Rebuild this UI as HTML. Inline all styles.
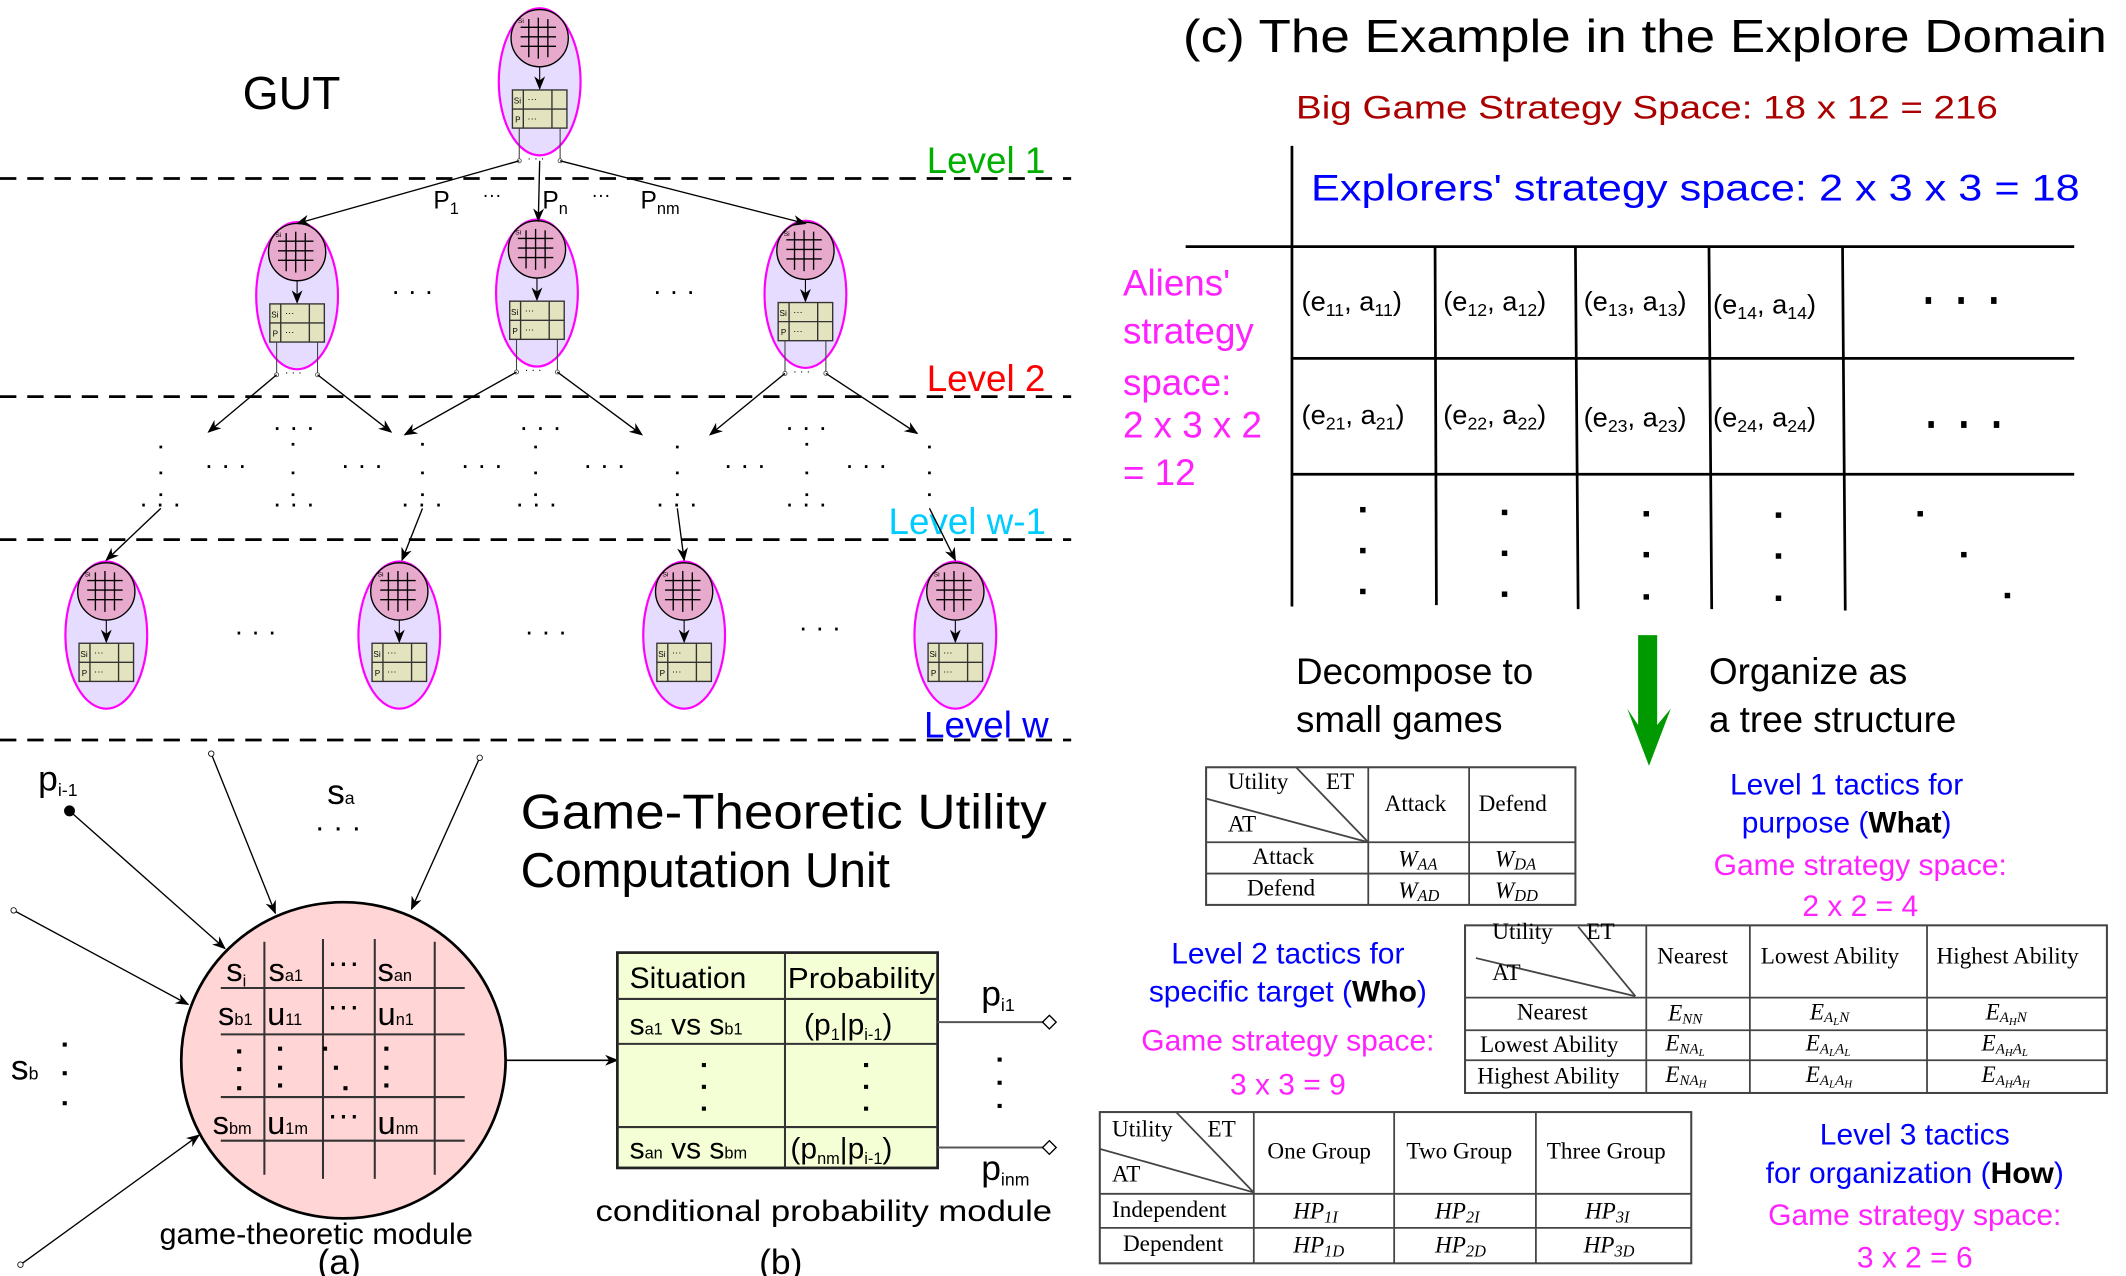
<!DOCTYPE html>
<html><head><meta charset="utf-8"><style>
html,body{margin:0;padding:0;background:#fff;}
svg{display:block;}
text{font-family:"Liberation Sans","DejaVu Sans",sans-serif;}
.s text{font-family:"Liberation Serif",serif;}
</style></head><body>
<svg width="2126" height="1276" viewBox="0 0 1560 936.3" preserveAspectRatio="none" xmlns="http://www.w3.org/2000/svg">
<defs>
<marker id="ar" markerWidth="10" markerHeight="8" refX="9" refY="4" orient="auto" markerUnits="userSpaceOnUse"><path d="M0,0 L10,4 L0,8 L3,4 z" fill="#000"/></marker>
<g id="nodew">
<ellipse cx="0" cy="0" rx="30" ry="54" fill="#e6dcff" stroke="#ff00ff" stroke-width="1.6"/>
<circle cx="0" cy="-32" r="21" fill="#e8aacc" stroke="#000" stroke-width="1"/>
<g stroke="#000" stroke-width="1"><line x1="-8" y1="-46" x2="-8" y2="-18"/><line x1="-1" y1="-47" x2="-1" y2="-17"/><line x1="6" y1="-46" x2="6" y2="-18"/>
<line x1="-14" y1="-40" x2="12" y2="-40"/><line x1="-14" y1="-33" x2="12" y2="-33"/><line x1="-14" y1="-26" x2="12" y2="-26"/></g>
<text x="-16" y="-43" font-size="5">Si</text>
<line x1="0" y1="-11" x2="0" y2="5" stroke="#000" stroke-width="0.8" marker-end="url(#ar)"/>
<rect x="-20" y="6" width="40" height="28" fill="#e3e3bf" stroke="#333" stroke-width="1"/>
<line x1="-20" y1="20" x2="20" y2="20" stroke="#333"/><line x1="-12" y1="6" x2="-12" y2="34" stroke="#333"/><line x1="9" y1="6" x2="9" y2="34" stroke="#333"/>
<text x="-19" y="16" font-size="6">Si</text><text x="-9" y="15" font-size="7">···</text>
<text x="-18" y="30" font-size="6">P</text><text x="-9" y="29" font-size="7">···</text>
</g>
<g id="node">
<use href="#nodew"/>
<g stroke="#444" stroke-width="0.8"><line x1="-15" y1="34" x2="-15" y2="58"/><line x1="15" y1="34" x2="15" y2="58"/></g>
<circle cx="-15" cy="58" r="1.5" fill="#fff" stroke="#444" stroke-width="0.6"/><circle cx="15" cy="58" r="1.5" fill="#fff" stroke="#444" stroke-width="0.6"/>
<text x="-9" y="59" font-size="8">· · ·</text>
</g>
</defs>

<g stroke="#000" stroke-width="2" stroke-dasharray="12 8">
<line x1="0" y1="131" x2="786" y2="131"/><line x1="0" y1="291" x2="786" y2="291"/>
<line x1="0" y1="396" x2="786" y2="396"/><line x1="0" y1="543" x2="786" y2="543"/>
</g>
<text x="178" y="80" font-size="34">GUT</text>
<text x="680" y="127" font-size="27" fill="#00b000">Level 1</text>
<text x="680" y="287" font-size="27" fill="#ff0000">Level 2</text>
<text x="652" y="392" font-size="27" fill="#00ccff">Level w-1</text>
<text x="678" y="541" font-size="27" fill="#0000ff">Level w</text>

<use href="#node" x="396" y="60"/>
<use href="#node" x="218" y="217"/>
<use href="#node" x="394" y="215"/>
<use href="#node" x="591" y="216"/>
<use href="#nodew" x="78" y="466"/>
<use href="#nodew" x="293" y="466"/>
<use href="#nodew" x="502" y="466"/>
<use href="#nodew" x="701" y="466"/>

<g stroke="#000" stroke-width="1" marker-end="url(#ar)">
<line x1="381" y1="118" x2="218" y2="164"/><line x1="396" y1="118" x2="395" y2="162"/><line x1="411" y1="118" x2="591" y2="164"/>
<line x1="203" y1="275" x2="153" y2="317"/><line x1="233" y1="275" x2="287" y2="317"/>
<line x1="379" y1="273" x2="297" y2="319"/><line x1="409" y1="273" x2="471" y2="319"/>
<line x1="576" y1="274" x2="521" y2="319"/><line x1="606" y1="274" x2="673" y2="318"/>
<line x1="118" y1="373" x2="78" y2="411"/><line x1="310" y1="373" x2="295" y2="411"/><line x1="497" y1="373" x2="502" y2="411"/><line x1="682" y1="373" x2="701" y2="411"/>
</g>
<text x="318" y="153" font-size="18">P<tspan font-size="12" dy="4">1</tspan></text>
<text x="354" y="148" font-size="14">···</text>
<text x="398" y="153" font-size="18">P<tspan font-size="12" dy="4">n</tspan></text>
<text x="434" y="148" font-size="14">···</text>
<text x="470" y="153" font-size="18">P<tspan font-size="12" dy="4">nm</tspan></text>
<g font-size="20">
<text x="287" y="220">· · ·</text><text x="479" y="220">· · ·</text>
<text x="200" y="320">· · ·</text><text x="381" y="320">· · ·</text><text x="576" y="320">· · ·</text>
<text x="150" y="348">· · ·</text><text x="250" y="348">· · ·</text><text x="338" y="348">· · ·</text><text x="428" y="348">· · ·</text><text x="531" y="348">· · ·</text><text x="620" y="348">· · ·</text>
<text x="102" y="376">· · ·</text><text x="200" y="376">· · ·</text><text x="294" y="376">· · ·</text><text x="378" y="376">· · ·</text><text x="481" y="376">· · ·</text><text x="576" y="376">· · ·</text>
<text x="172" y="470">· · ·</text><text x="385" y="470">· · ·</text><text x="586" y="467">· · ·</text>
</g>
<g fill="#000">
<rect x="117" y="327" width="2" height="2"/><rect x="117" y="346" width="2" height="2"/><rect x="117" y="362" width="2" height="2"/>
<rect x="214" y="325" width="2" height="2"/><rect x="214" y="346" width="2" height="2"/><rect x="214" y="362" width="2" height="2"/>
<rect x="309" y="325" width="2" height="2"/><rect x="309" y="346" width="2" height="2"/><rect x="309" y="362" width="2" height="2"/>
<rect x="392" y="327" width="2" height="2"/><rect x="392" y="346" width="2" height="2"/><rect x="392" y="362" width="2" height="2"/>
<rect x="496" y="327" width="2" height="2"/><rect x="496" y="346" width="2" height="2"/><rect x="496" y="362" width="2" height="2"/>
<rect x="591" y="325" width="2" height="2"/><rect x="591" y="346" width="2" height="2"/><rect x="591" y="362" width="2" height="2"/>
<rect x="681" y="327" width="2" height="2"/><rect x="681" y="346" width="2" height="2"/><rect x="681" y="362" width="2" height="2"/>
</g>

<!-- (a) -->
<ellipse cx="252" cy="778" rx="119" ry="116" fill="#ffd5d5" stroke="#000" stroke-width="2"/>
<g stroke="#333" stroke-width="1.5">
<line x1="162" y1="725" x2="341" y2="725"/><line x1="162" y1="759" x2="341" y2="759"/><line x1="162" y1="805" x2="341" y2="805"/><line x1="162" y1="837" x2="341" y2="837"/>
<line x1="194" y1="691" x2="194" y2="862"/><line x1="237" y1="689" x2="237" y2="865"/><line x1="275" y1="689" x2="275" y2="865"/><line x1="319" y1="691" x2="319" y2="862"/>
</g>
<g font-size="24">
<text x="166" y="720">s<tspan font-size="12" dy="4">i</tspan></text>
<text x="197" y="720">s<tspan font-size="12">a1</tspan></text>
<text x="240" y="714">···</text>
<text x="277" y="720">s<tspan font-size="12">an</tspan></text>
<text x="160" y="752">s<tspan font-size="12">b1</tspan></text>
<text x="196" y="752">u<tspan font-size="12">11</tspan></text>
<text x="240" y="746">···</text>
<text x="277" y="752">u<tspan font-size="12">n1</tspan></text>
<text x="156" y="832">s<tspan font-size="12">bm</tspan></text>
<text x="196" y="832">u<tspan font-size="12">1m</tspan></text>
<text x="240" y="826">···</text>
<text x="277" y="832">u<tspan font-size="12">nm</tspan></text>
</g>
<g fill="#000">
<rect x="174" y="770" width="3" height="3"/><rect x="174" y="783" width="3" height="3"/><rect x="174" y="797" width="3" height="3"/>
<rect x="204" y="768" width="3" height="3"/><rect x="204" y="782" width="3" height="3"/><rect x="204" y="795" width="3" height="3"/>
<rect x="237" y="768" width="3" height="3"/><rect x="245" y="782" width="3" height="3"/><rect x="252" y="797" width="3" height="3"/>
<rect x="282" y="768" width="3" height="3"/><rect x="282" y="782" width="3" height="3"/><rect x="282" y="795" width="3" height="3"/>
</g>
<circle cx="51" cy="595" r="4" fill="#000"/>
<g stroke="#000" stroke-width="1" marker-end="url(#ar)">
<line x1="51" y1="595" x2="165" y2="696"/>
<line x1="155" y1="553" x2="202" y2="670"/>
<line x1="352" y1="556" x2="302" y2="667"/>
<line x1="10" y1="668" x2="138" y2="737"/>
<line x1="15" y1="928" x2="146" y2="833"/>
</g>
<g fill="#fff" stroke="#000" stroke-width="0.6"><circle cx="155" cy="553" r="2"/><circle cx="352" cy="556" r="2"/><circle cx="10" cy="668" r="2"/><circle cx="15" cy="928" r="2"/></g>
<text x="28" y="580" font-size="26">p<tspan font-size="13" dy="4">i-1</tspan></text>
<text x="240" y="590" font-size="26">s<tspan font-size="13">a</tspan></text>
<text x="231" y="614" font-size="22">· · ·</text>
<text x="8" y="792" font-size="26">s<tspan font-size="13">b</tspan></text>
<g fill="#000"><rect x="46" y="765" width="3" height="3"/><rect x="46" y="786" width="3" height="3"/><rect x="46" y="808" width="3" height="3"/></g>
<text x="117" y="913" font-size="22" textLength="230" lengthAdjust="spacingAndGlyphs">game-theoretic module</text>
<text x="233" y="935" font-size="26">(a)</text>
<text x="382" y="608" font-size="36" textLength="386" lengthAdjust="spacingAndGlyphs">Game-Theoretic Utility</text>
<text x="382" y="651" font-size="36" textLength="271" lengthAdjust="spacingAndGlyphs">Computation Unit</text>
<line x1="371" y1="778" x2="453" y2="778" stroke="#000" stroke-width="1.2" marker-end="url(#ar)"/>

<!-- (b) -->
<rect x="453" y="699" width="235" height="158" fill="#f5ffd5" stroke="#222" stroke-width="2"/>
<g stroke="#333" stroke-width="1.5"><line x1="576" y1="699" x2="576" y2="857"/><line x1="453" y1="733" x2="688" y2="733"/><line x1="453" y1="766" x2="688" y2="766"/><line x1="453" y1="827" x2="688" y2="827"/></g>
<text x="462" y="725" font-size="22">Situation</text>
<text x="578" y="725" font-size="21" textLength="108" lengthAdjust="spacingAndGlyphs">Probability</text>
<text x="462" y="759" font-size="22">s<tspan font-size="12">a1</tspan> vs s<tspan font-size="12">b1</tspan></text>
<text x="590" y="759" font-size="22">(p<tspan font-size="12" dy="4">1</tspan><tspan dy="-4">|p</tspan><tspan font-size="12" dy="4">i-1</tspan><tspan dy="-4">)</tspan></text>
<text x="462" y="850" font-size="22">s<tspan font-size="12">an</tspan> vs s<tspan font-size="12">bm</tspan></text>
<text x="580" y="850" font-size="22">(p<tspan font-size="12" dy="4">nm</tspan><tspan dy="-4">|p</tspan><tspan font-size="12" dy="4">i-1</tspan><tspan dy="-4">)</tspan></text>
<g fill="#000"><rect x="515" y="780" width="3" height="3"/><rect x="515" y="796" width="3" height="3"/><rect x="515" y="812" width="3" height="3"/>
<rect x="634" y="780" width="3" height="3"/><rect x="634" y="796" width="3" height="3"/><rect x="634" y="812" width="3" height="3"/>
<rect x="732" y="776" width="3" height="3"/><rect x="732" y="793" width="3" height="3"/><rect x="732" y="810" width="3" height="3"/></g>
<g stroke="#555" stroke-width="1.5"><line x1="688" y1="750" x2="765" y2="750"/><line x1="688" y1="842" x2="765" y2="842"/></g>
<g fill="#fff" stroke="#000" stroke-width="1"><path d="M765,750 l5,-5 l5,5 l-5,5z"/><path d="M765,842 l5,-5 l5,5 l-5,5z"/></g>
<text x="720" y="738" font-size="26">p<tspan font-size="13" dy="4">i1</tspan></text>
<text x="720" y="866" font-size="26">p<tspan font-size="13" dy="4">inm</tspan></text>
<text x="437" y="896" font-size="22" textLength="335" lengthAdjust="spacingAndGlyphs">conditional probability module</text>
<text x="557" y="935" font-size="26">(b)</text>

<!-- (c) -->
<text x="868" y="38" font-size="34" textLength="678" lengthAdjust="spacingAndGlyphs">(c) The Example in the Explore Domain</text>
<text x="951" y="87" font-size="24" fill="#aa0000" textLength="515" lengthAdjust="spacingAndGlyphs">Big Game Strategy Space: 18 x 12 = 216</text>
<text x="962" y="147" font-size="27" fill="#0000ff" textLength="564" lengthAdjust="spacingAndGlyphs">Explorers' strategy space: 2 x 3 x 3 = 18</text>
<g fill="#ff22ff" font-size="27">
<text x="824" y="217">Aliens'</text><text x="824" y="252">strategy</text><text x="824" y="290">space:</text><text x="824" y="321">2 x 3 x 2</text><text x="824" y="356">= 12</text>
</g>
<g stroke="#000" stroke-width="2">
<line x1="948" y1="107" x2="948" y2="445"/>
<line x1="870" y1="181" x2="1522" y2="181"/><line x1="948" y1="263" x2="1522" y2="263"/><line x1="948" y1="348" x2="1522" y2="348"/>
<line x1="1053" y1="181" x2="1054" y2="444"/><line x1="1156" y1="181" x2="1158" y2="447"/><line x1="1254" y1="181" x2="1256" y2="447"/><line x1="1352" y1="181" x2="1354" y2="448"/>
</g>
<g font-size="20">
<text x="955" y="228">(e<tspan font-size="13" dy="4">11</tspan><tspan dy="-4">, a</tspan><tspan font-size="13" dy="4">11</tspan><tspan dy="-4">)</tspan></text>
<text x="1059" y="228">(e<tspan font-size="13" dy="4">12</tspan><tspan dy="-4">, a</tspan><tspan font-size="13" dy="4">12</tspan><tspan dy="-4">)</tspan></text>
<text x="1162" y="228">(e<tspan font-size="13" dy="4">13</tspan><tspan dy="-4">, a</tspan><tspan font-size="13" dy="4">13</tspan><tspan dy="-4">)</tspan></text>
<text x="1257" y="230">(e<tspan font-size="13" dy="4">14</tspan><tspan dy="-4">, a</tspan><tspan font-size="13" dy="4">14</tspan><tspan dy="-4">)</tspan></text>
<text x="955" y="311">(e<tspan font-size="13" dy="4">21</tspan><tspan dy="-4">, a</tspan><tspan font-size="13" dy="4">21</tspan><tspan dy="-4">)</tspan></text>
<text x="1059" y="311">(e<tspan font-size="13" dy="4">22</tspan><tspan dy="-4">, a</tspan><tspan font-size="13" dy="4">22</tspan><tspan dy="-4">)</tspan></text>
<text x="1162" y="313">(e<tspan font-size="13" dy="4">23</tspan><tspan dy="-4">, a</tspan><tspan font-size="13" dy="4">23</tspan><tspan dy="-4">)</tspan></text>
<text x="1257" y="313">(e<tspan font-size="13" dy="4">24</tspan><tspan dy="-4">, a</tspan><tspan font-size="13" dy="4">24</tspan><tspan dy="-4">)</tspan></text>
</g>
<g fill="#000">
<rect x="1413" y="218" width="4" height="5"/><rect x="1437" y="218" width="4" height="5"/><rect x="1461" y="218" width="4" height="5"/>
<rect x="1415" y="309" width="4" height="5"/><rect x="1439" y="309" width="4" height="5"/><rect x="1463" y="309" width="4" height="5"/>
<rect x="998" y="372" width="4" height="4"/><rect x="998" y="402" width="4" height="4"/><rect x="998" y="432" width="4" height="4"/>
<rect x="1102" y="374" width="4" height="4"/><rect x="1102" y="404" width="4" height="4"/><rect x="1102" y="434" width="4" height="4"/>
<rect x="1206" y="375" width="4" height="4"/><rect x="1206" y="405" width="4" height="4"/><rect x="1206" y="436" width="4" height="4"/>
<rect x="1303" y="376" width="4" height="4"/><rect x="1303" y="406" width="4" height="4"/><rect x="1303" y="437" width="4" height="4"/>
<rect x="1407" y="375" width="4" height="4"/><rect x="1439" y="405" width="4" height="4"/><rect x="1471" y="435" width="4" height="4"/>
</g>
<path d="M1202,466 L1216,466 L1216,532 L1226,520 L1210,562 L1194,520 L1202,532 z" fill="#009900"/>
<g font-size="27">
<text x="951" y="502">Decompose to</text><text x="951" y="537">small games</text>
<text x="1254" y="502">Organize as</text><text x="1254" y="537">a tree structure</text>
</g>

<g class="s">
<!-- table 1 -->
<rect x="885" y="563" width="271" height="101" fill="#fff" stroke="#444" stroke-width="1.5"/>
<g stroke="#444" stroke-width="1.3"><line x1="1004" y1="563" x2="1004" y2="664"/><line x1="1078" y1="563" x2="1078" y2="664"/><line x1="885" y1="618" x2="1156" y2="618"/><line x1="885" y1="641" x2="1156" y2="641"/>
<line x1="885" y1="586" x2="1004" y2="618"/><line x1="951" y1="563" x2="1004" y2="618"/></g>
<g font-size="17">
<text x="901" y="579">Utility</text><text x="973" y="579">ET</text><text x="901" y="610">AT</text>
<text x="1016" y="595">Attack</text><text x="1085" y="595">Defend</text>
<text x="919" y="634">Attack</text><text x="915" y="657">Defend</text>
<text x="1026" y="636" font-style="italic">W<tspan font-size="12" dy="2">AA</tspan></text>
<text x="1097" y="636" font-style="italic">W<tspan font-size="12" dy="2">DA</tspan></text>
<text x="1026" y="659" font-style="italic">W<tspan font-size="12" dy="2">AD</tspan></text>
<text x="1097" y="659" font-style="italic">W<tspan font-size="12" dy="2">DD</tspan></text>
</g>

<!-- table 2 -->
<rect x="1075" y="679" width="471" height="123" fill="#fff" stroke="#444" stroke-width="1.5"/>
<g stroke="#444" stroke-width="1.3"><line x1="1208" y1="679" x2="1208" y2="802"/><line x1="1284" y1="679" x2="1284" y2="802"/><line x1="1414" y1="679" x2="1414" y2="802"/>
<line x1="1075" y1="732" x2="1546" y2="732"/><line x1="1075" y1="756" x2="1546" y2="756"/><line x1="1075" y1="778" x2="1546" y2="778"/>
<line x1="1083" y1="703" x2="1200" y2="731"/><line x1="1158" y1="680" x2="1200" y2="731"/></g>
<g font-size="17">
<text x="1095" y="689">Utility</text><text x="1164" y="689">ET</text><text x="1095" y="719">AT</text>
<text x="1216" y="707">Nearest</text><text x="1292" y="707">Lowest Ability</text><text x="1421" y="707">Highest Ability</text>
<text x="1113" y="748">Nearest</text><text x="1086" y="772">Lowest Ability</text><text x="1084" y="795">Highest Ability</text>
<g font-style="italic">
<text x="1224" y="749">E<tspan font-size="11" dy="2">NN</tspan></text>
<text x="1328" y="748">E<tspan font-size="11" dy="2">A</tspan><tspan font-size="8" dy="2">L</tspan><tspan font-size="11" dy="-2">N</tspan></text>
<text x="1457" y="748">E<tspan font-size="11" dy="2">A</tspan><tspan font-size="8" dy="2">H</tspan><tspan font-size="11" dy="-2">N</tspan></text>
<text x="1222" y="771">E<tspan font-size="11" dy="2">NA</tspan><tspan font-size="8" dy="2">L</tspan></text>
<text x="1325" y="771">E<tspan font-size="11" dy="2">A</tspan><tspan font-size="8" dy="2">L</tspan><tspan font-size="11" dy="-2">A</tspan><tspan font-size="8" dy="2">L</tspan></text>
<text x="1454" y="771">E<tspan font-size="11" dy="2">A</tspan><tspan font-size="8" dy="2">H</tspan><tspan font-size="11" dy="-2">A</tspan><tspan font-size="8" dy="2">L</tspan></text>
<text x="1222" y="794">E<tspan font-size="11" dy="2">NA</tspan><tspan font-size="8" dy="2">H</tspan></text>
<text x="1325" y="794">E<tspan font-size="11" dy="2">A</tspan><tspan font-size="8" dy="2">L</tspan><tspan font-size="11" dy="-2">A</tspan><tspan font-size="8" dy="2">H</tspan></text>
<text x="1454" y="794">E<tspan font-size="11" dy="2">A</tspan><tspan font-size="8" dy="2">H</tspan><tspan font-size="11" dy="-2">A</tspan><tspan font-size="8" dy="2">H</tspan></text>
</g></g>

<!-- table 3 -->
<rect x="807" y="816" width="434" height="111" fill="#fff" stroke="#444" stroke-width="1.5"/>
<g stroke="#444" stroke-width="1.3"><line x1="920" y1="816" x2="920" y2="927"/><line x1="1023" y1="816" x2="1023" y2="927"/><line x1="1127" y1="816" x2="1127" y2="927"/>
<line x1="807" y1="876" x2="1241" y2="876"/><line x1="807" y1="901" x2="1241" y2="901"/>
<line x1="807" y1="843" x2="920" y2="875"/><line x1="863" y1="816" x2="920" y2="875"/></g>
<g font-size="17">
<text x="816" y="834">Utility</text><text x="886" y="834">ET</text><text x="816" y="867">AT</text>
<text x="930" y="850">One Group</text><text x="1032" y="850">Two Group</text><text x="1135" y="850">Three Group</text>
<text x="816" y="893">Independent</text><text x="824" y="918">Dependent</text>
<g font-style="italic">
<text x="949" y="894">HP<tspan font-size="12" dy="3">1I</tspan></text><text x="1053" y="894">HP<tspan font-size="12" dy="3">2I</tspan></text><text x="1163" y="894">HP<tspan font-size="12" dy="3">3I</tspan></text>
<text x="949" y="919">HP<tspan font-size="12" dy="3">1D</tspan></text><text x="1053" y="919">HP<tspan font-size="12" dy="3">2D</tspan></text><text x="1162" y="919">HP<tspan font-size="12" dy="3">3D</tspan></text>
</g></g>
</g>

<g font-size="22" text-anchor="middle">
<text x="1355" y="583" fill="#0000ff">Level 1 tactics for</text>
<text x="1355" y="611" fill="#0000ff">purpose (<tspan fill="#000" font-weight="bold">What</tspan>)</text>
<text x="1365" y="642" fill="#ff22ff">Game strategy space:</text>
<text x="1365" y="672" fill="#ff22ff">2 x 2 = 4</text>
<text x="945" y="707" fill="#0000ff">Level 2 tactics for</text>
<text x="945" y="735" fill="#0000ff">specific target (<tspan fill="#000" font-weight="bold">Who</tspan>)</text>
<text x="945" y="771" fill="#ff22ff">Game strategy space:</text>
<text x="945" y="803" fill="#ff22ff">3 x 3 = 9</text>
<text x="1405" y="840" fill="#0000ff">Level 3 tactics</text>
<text x="1405" y="868" fill="#0000ff">for organization (<tspan fill="#000" font-weight="bold">How</tspan>)</text>
<text x="1405" y="899" fill="#ff22ff">Game strategy space:</text>
<text x="1405" y="930" fill="#ff22ff">3 x 2 = 6</text>
</g>
</svg>
</body></html>
